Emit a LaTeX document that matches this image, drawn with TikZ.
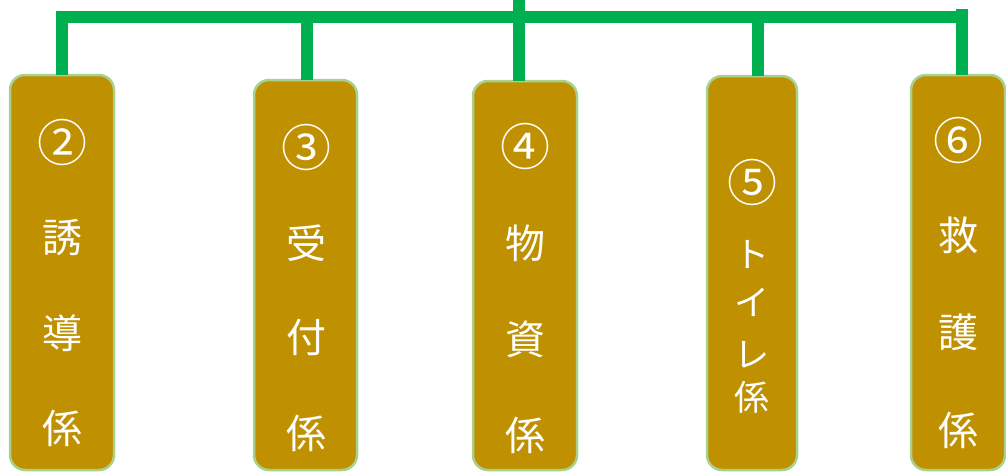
\documentclass[tikz,border=0pt]{standalone}
\usepackage{fontspec}
\newfontfamily\cjk{Noto Sans CJK JP}
\definecolor{barg}{HTML}{00B050}
\definecolor{boxfill}{HTML}{BF9000}
\definecolor{boxedge}{HTML}{A9D18E}
\begin{document}
\begin{tikzpicture}[x=1pt,y=-1pt,
  bar/.style={draw=barg,line width=12pt},
  rolebox/.style={draw=boxedge,fill=boxfill,line width=2.5pt,rounded corners=15pt,
    rectangle,anchor=north west,inner sep=0pt,outer sep=0pt},
  lbl/.style={text=white,font=\cjk\fontsize{40}{40}\selectfont,inner sep=0pt},
  nlbl/.style={text=white,font=\cjk\fontsize{50}{50}\selectfont,inner sep=0pt},
  slbl/.style={text=white,font=\cjk\fontsize{35}{35}\selectfont,inner sep=0pt}]
\useasboundingbox (0,0) rectangle (1006,472);
% boxes
\node[rolebox,minimum width=104pt,minimum height=395pt] (b1) at (10,75) {};
\node[rolebox,minimum width=103pt,minimum height=390pt] (b2) at (254,80) {};
\node[rolebox,minimum width=104pt,minimum height=389pt] (b3) at (473,81) {};
\node[rolebox,minimum width=90pt,minimum height=394pt] (b4) at (707,76) {};
\node[rolebox,minimum width=94pt,minimum height=395pt] (b5) at (911,75) {};
% tree
\coordinate (root) at (519,0);
\coordinate (barL) at (56,17);
\coordinate (barR) at (968,17);
\draw[bar] (barL) -- (barR);
\draw[bar] (b1.north |- 0,11) -- (b1.north);
\draw[bar] ([xshift=1.5pt]b2.north |- barL) -- ([xshift=1.5pt]b2.north);
\draw[bar] (root) -- ([xshift=-6pt]b3.north);
\draw[bar] ([xshift=6pt]b4.north |- barL) -- ([xshift=6pt]b4.north);
\draw[bar] ([xshift=4pt]b5.north |- 0,9) -- ([xshift=4pt]b5.north);
% labels box 1
\node[nlbl] (t11) at (62,142) {②};
\node[lbl] (t12) at (62,237) {誘};
\node[lbl] (t13) at (62,333) {導};
\node[lbl] (t14) at (62,428) {係};
% box 2
\node[nlbl] (t21) at (306,147) {③};
\node[lbl] (t22) at (306,243) {受};
\node[lbl] (t23) at (306,337) {付};
\node[lbl] (t24) at (306,433) {係};
% box 3
\node[nlbl] (t31) at (525,146) {④};
\node[lbl] (t32) at (525,243) {物};
\node[lbl] (t33) at (525,339) {資};
\node[lbl] (t34) at (525,435) {係};
% box 4
\node[nlbl] (t41) at (752,182) {⑤};
\node[slbl] (t42) at (752,254) {ト};
\node[slbl] (t43) at (752,302) {イ};
\node[slbl] (t44) at (752,355) {レ};
\node[slbl] (t45) at (752,397) {係};
% box 5
\node[nlbl] (t51) at (958,140) {⑥};
\node[lbl] (t52) at (958,235) {救};
\node[lbl] (t53) at (958,332) {護};
\node[lbl] (t54) at (958,430) {係};
\end{tikzpicture}
\end{document}
